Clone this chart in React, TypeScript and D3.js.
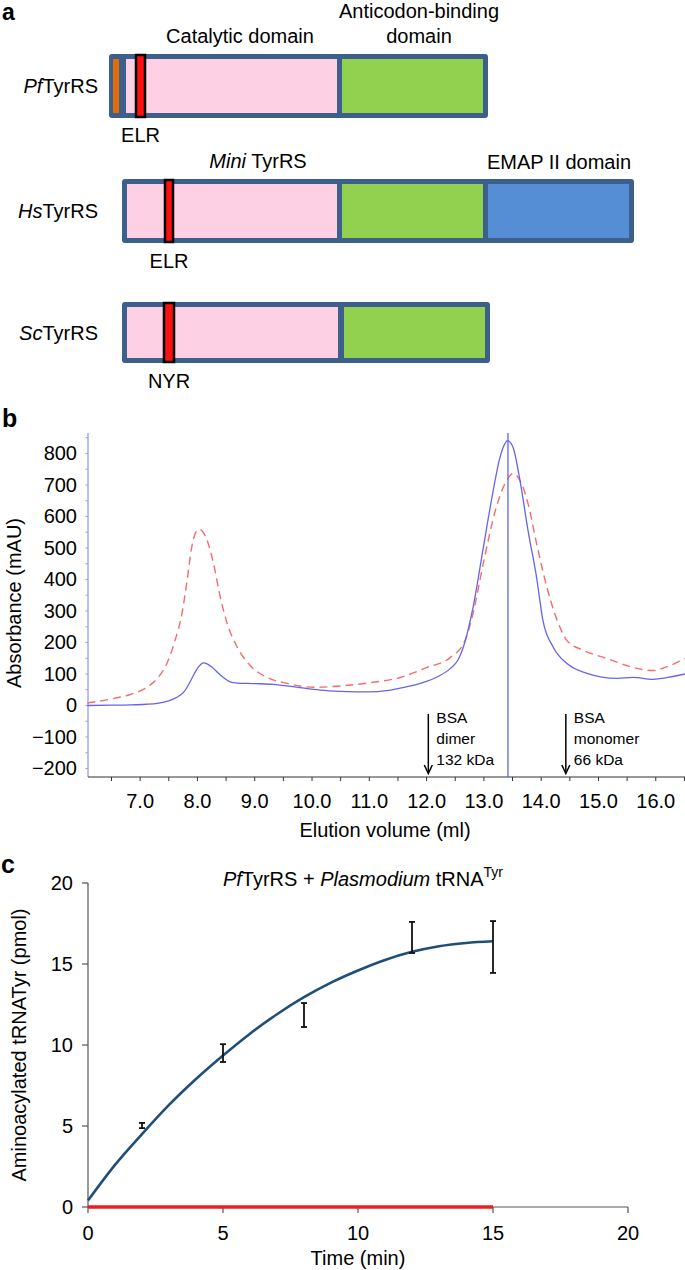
import React from "react";
import * as d3 from "d3";

// ---------- Panel a: domain schematic (arbitrary sequence units) ----------
const proteinNames = ["Pf", "Hs", "Sc"];
const proteinStart = [0, 13, 13];
const proteinEnd = [379, 525, 381];
const catalyticStart = [17, 18, 18];
const catalyticEnd = [228, 228, 229];
const anticodonStart = [233, 233, 235];
const anticodonEnd = [374, 374, 376];
const emapStart = [null, 379, null];
const emapEnd = [null, 520, null];
const leaderStart = [4, null, null];
const leaderEnd = [10, null, null];
const motifStart = [26, 55, 54];
const motifEnd = [37, 65, 66];
const motifNames = ["ELR", "ELR", "NYR"];

// ---------- Panel b: gel filtration ----------
const blueVol = [6.08, 6.5, 6.83, 7.1, 7.3, 7.5, 7.65, 7.75, 7.82, 7.9, 7.96, 8.03, 8.1, 8.17, 8.25, 8.4, 8.57, 8.7, 8.86, 9.1, 9.32, 9.73, 10.14, 10.5, 11.0, 11.3, 11.54, 11.89, 12.2, 12.41, 12.55, 12.64, 12.81, 12.99, 13.14, 13.28, 13.35, 13.41, 13.46, 13.51, 13.63, 13.77, 13.92, 14.03, 14.21, 14.45, 14.8, 15.32, 15.6, 15.95, 16.3, 16.51];
const blueAbs = [0, 1, 2, 4, 7, 15, 27, 40, 58, 85, 106, 125, 135, 132, 122, 97, 75, 71, 70, 69, 67, 58, 49, 45, 43, 47, 55, 70, 92, 117, 145, 185, 311, 501, 660, 787, 825, 841, 835, 819, 714, 556, 406, 270, 185, 133, 102, 86, 89, 83, 92, 100];
const redVol = [6.08, 6.53, 6.83, 7.12, 7.3, 7.47, 7.61, 7.73, 7.82, 7.9, 7.96, 8.03, 8.1, 8.17, 8.28, 8.4, 8.52, 8.69, 8.92, 9.22, 9.57, 10.03, 10.5, 11.0, 11.54, 12.01, 12.41, 12.67, 12.81, 12.99, 13.2, 13.37, 13.51, 13.63, 13.77, 13.92, 14.1, 14.28, 14.45, 14.74, 15.15, 15.6, 15.95, 16.25, 16.51];
const redAbs = [8, 22, 35, 58, 86, 135, 207, 292, 397, 502, 545, 559, 550, 524, 451, 343, 260, 187, 127, 89, 70, 58, 62, 72, 89, 121, 152, 206, 292, 451, 619, 705, 736, 714, 641, 514, 375, 270, 206, 175, 149, 121, 111, 127, 149];
const peakLineVol = 13.42;
const markerVol = [12.03, 14.43];
const markerLabels = [["BSA", "dimer", "132 kDa"], ["BSA", "monomer", "66 kDa"]];
const bYTicks = [-200, -100, 0, 100, 200, 300, 400, 500, 600, 700, 800];
const bXLabels = [7, 8, 9, 10, 11, 12, 13, 14, 15, 16];

// ---------- Panel c: aminoacylation ----------
const timePts = [2, 5, 8, 12, 15];
const meanPts = [5.03, 9.5, 11.85, 16.64, 16.05];
const errPts = [0.16, 0.55, 0.74, 0.96, 1.6];
const fitTime = [0, 1, 2, 3, 4, 5, 6, 7, 8, 9, 10, 11, 12, 13, 14, 15];
const fitVal = [0.4, 2.6, 4.5, 6.3, 7.9, 9.35, 10.7, 11.9, 12.95, 13.85, 14.6, 15.25, 15.75, 16.1, 16.3, 16.4];
const controlTime = [0, 15];
const controlVal = [0, 0];
const cTicks = [0, 5, 10, 15, 20];

const FONT = "'Liberation Sans', Arial, Helvetica, sans-serif";

export default function App() {
  // ---- panel a scales ----
  const ax = d3.scaleLinear().domain([0, 525]).range([109, 634]);
  const rowTop = [54, 179, 302];
  const rowBot = [118, 243, 363];
  const B = 5; // border
  const border = "#3d5f8c";

  // ---- panel b scales ----
  const bx = d3.scaleLinear().domain([6.09, 16.51]).range([88, 685]);
  const by = d3.scaleLinear().domain([-227, 865]).range([777, 433]);
  const bline = (xs: number[], ys: number[]) =>
    d3.line<number>().x((d, i) => bx(xs[i])).y((d) => by(d)).curve(d3.curveMonotoneX)(ys) || "";
  const bMinor = d3.range(-200, 851, 50);
  const bXTicks = d3.range(6.5, 16.51, 0.5);

  // ---- panel c scales ----
  const cx = d3.scaleLinear().domain([0, 20]).range([88, 628]);
  const cy = d3.scaleLinear().domain([0, 20]).range([1207, 883]);
  const fitPath = d3.line<number>().x((d, i) => cx(fitTime[i])).y((d) => cy(d)).curve(d3.curveMonotoneX)(fitVal) || "";
  const ctrlPath = d3.line<number>().x((d, i) => cx(controlTime[i])).y((d) => cy(d))(controlVal) || "";

  return (
    <div style={{ position: "absolute", left: 0, top: 0 }}>
      <svg width={685} height={1270} style={{ display: "block", background: "#fff" }} fontFamily={FONT}>
        {/* ================= Panel a ================= */}
        <text x={2} y={20} fontSize={23} fontWeight="bold">a</text>
        <text x={240} y={43} fontSize={20} textAnchor="middle">Catalytic domain</text>
        <text x={419} y={18} fontSize={20} textAnchor="middle">Anticodon-binding</text>
        <text x={419} y={43} fontSize={20} textAnchor="middle">domain</text>
        <text x={258} y={168} fontSize={20} textAnchor="middle"><tspan fontStyle="italic">Mini</tspan> TyrRS</text>
        <text x={559} y={169} fontSize={20} textAnchor="middle">EMAP II domain</text>
        {proteinNames.map((p, i) => {
          const t = rowTop[i], b = rowBot[i];
          const seg = (s: number | null, e: number | null, fill: string) =>
            s == null || e == null ? null : (
              <rect x={ax(s)} y={t + B} width={ax(e) - ax(s)} height={b - t - 2 * B} fill={fill} />
            );
          const labY = [93, 218, 340][i];
          const motY = [142, 268, 388][i];
          return (
            <g key={p}>
              <text x={98} y={labY} fontSize={20} textAnchor="end">
                <tspan fontStyle="italic">{p}</tspan>TyrRS
              </text>
              <rect x={ax(proteinStart[i])} y={t} width={ax(proteinEnd[i]) - ax(proteinStart[i])} height={b - t} rx={3} fill={border} />
              {seg(leaderStart[i], leaderEnd[i], "#e36c0a")}
              {seg(catalyticStart[i], catalyticEnd[i], "#fdd0e3")}
              {seg(anticodonStart[i], anticodonEnd[i], "#92d050")}
              {seg(emapStart[i], emapEnd[i], "#558ed5")}
              <rect x={ax(motifStart[i]) + 1} y={t + 1} width={ax(motifEnd[i]) - ax(motifStart[i]) - 2} height={b - t - 2} fill="#ff1010" stroke="#000" strokeWidth={2.5} />
              <text x={(ax(motifStart[i]) + ax(motifEnd[i])) / 2} y={motY} fontSize={20} textAnchor="middle">{motifNames[i]}</text>
            </g>
          );
        })}

        {/* ================= Panel b ================= */}
        <text x={2} y={427} fontSize={25} fontWeight="bold">b</text>
        {/* y axis */}
        <line x1={88} x2={88} y1={433} y2={777} stroke="#7b7bef" strokeWidth={1} />
        {bMinor.map((v) => (
          <line key={"bm" + v} x1={85.5} x2={88} y1={by(v)} y2={by(v)} stroke="#9a9af0" strokeWidth={1} />
        ))}
        {bYTicks.map((v) => (
          <text key={"byt" + v} x={77} y={by(v) + 7} fontSize={20} textAnchor="end">
            {v < 0 ? "\u2212" + Math.abs(v) : String(v)}
          </text>
        ))}
        <text transform={`translate(21,603) rotate(-90)`} fontSize={20} textAnchor="middle">Absorbance (mAU)</text>
        {/* x axis */}
        <line x1={88} x2={685} y1={777} y2={777} stroke="#333" strokeWidth={1.2} />
        {bXTicks.map((v) => (
          <line key={"bxt" + v} x1={bx(v)} x2={bx(v)} y1={777} y2={781} stroke="#333" strokeWidth={1} />
        ))}
        {bXLabels.map((v) => (
          <text key={"bxl" + v} x={bx(v)} y={808} fontSize={20} textAnchor="middle">{d3.format(".1f")(v)}</text>
        ))}
        <text x={385} y={837} fontSize={20} textAnchor="middle">Elution volume (ml)</text>
        {/* curves */}
        <path d={bline(redVol, redAbs)} fill="none" stroke="#f26d6d" strokeWidth={1.4} strokeDasharray="8,5" />
        <path d={bline(blueVol, blueAbs)} fill="none" stroke="#6464ec" strokeWidth={1.3} />
        <line x1={bx(peakLineVol)} x2={bx(peakLineVol)} y1={433} y2={777} stroke="#6464ec" strokeWidth={1.3} />
        {/* markers */}
        {markerVol.map((v, i) => {
          const x = bx(v);
          return (
            <g key={"mk" + i}>
              <line x1={x} x2={x} y1={714} y2={773} stroke="#000" strokeWidth={1.5} />
              <path d={`M${x - 4},${765} L${x},${773.5} L${x + 4},${765}`} fill="none" stroke="#000" strokeWidth={1.5} />
              {markerLabels[i].map((s, j) => (
                <text key={j} x={x + 8} y={723 + j * 21} fontSize={15.5}>{s}</text>
              ))}
            </g>
          );
        })}

        {/* ================= Panel c ================= */}
        <text x={1} y={873} fontSize={25} fontWeight="bold">c</text>
        <text x={363} y={886} fontSize={20} textAnchor="middle">
          <tspan fontStyle="italic">Pf</tspan>TyrRS + <tspan fontStyle="italic">Plasmodium</tspan> tRNA
          <tspan dy={-9} fontSize={14}>Tyr</tspan>
        </text>
        <line x1={88} x2={88} y1={cy(20)} y2={cy(0)} stroke="#555" strokeWidth={1.2} />
        <line x1={88} x2={cx(20)} y1={cy(0)} y2={cy(0)} stroke="#555" strokeWidth={1.2} />
        {cTicks.map((v) => (
          <g key={"ct" + v}>
            <line x1={82} x2={88} y1={cy(v)} y2={cy(v)} stroke="#555" strokeWidth={1.2} />
            <text x={73} y={cy(v) + 7} fontSize={20} textAnchor="end">{v}</text>
            <line x1={cx(v)} x2={cx(v)} y1={cy(0)} y2={cy(0) + 6} stroke="#555" strokeWidth={1.2} />
            <text x={cx(v)} y={1240} fontSize={20} textAnchor="middle">{v}</text>
          </g>
        ))}
        <text x={358} y={1265} fontSize={20} textAnchor="middle">Time (min)</text>
        <text transform={`translate(26,1045) rotate(-90)`} fontSize={20} textAnchor="middle">Aminoacylated tRNATyr (pmol)</text>
        <path d={ctrlPath} fill="none" stroke="#ee1c1c" strokeWidth={3.5} />
        <path d={fitPath} fill="none" stroke="#1f4e79" strokeWidth={2.6} />
        {timePts.map((t, i) => {
          const x = cx(t);
          const y1 = cy(meanPts[i] + errPts[i]);
          const y2 = cy(meanPts[i] - errPts[i]);
          return (
            <g key={"eb" + t} stroke="#111" strokeWidth={1.8}>
              <line x1={x} x2={x} y1={y1} y2={y2} />
              <line x1={x - 3} x2={x + 3} y1={y1} y2={y1} />
              <line x1={x - 3} x2={x + 3} y1={y2} y2={y2} />
            </g>
          );
        })}
      </svg>
    </div>
  );
}
